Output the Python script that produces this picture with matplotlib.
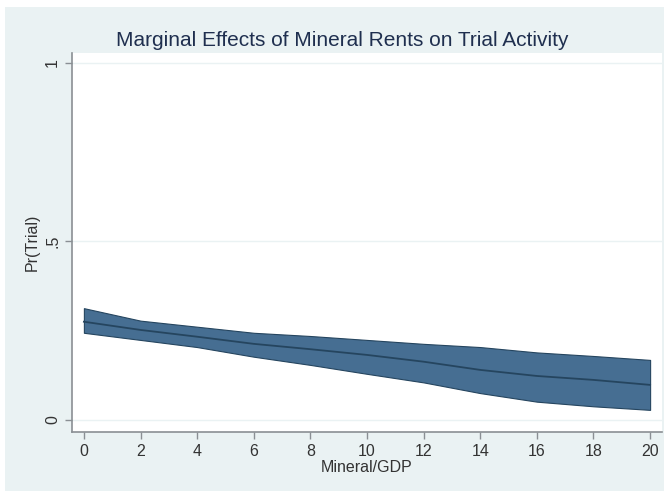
import numpy as np
import matplotlib.pyplot as plt
from matplotlib.patches import Rectangle

# values
mineral_gdp = [0, 2, 4, 6, 8, 10, 12, 14, 16, 18, 20]
pr_trial = [0.275, 0.252, 0.233, 0.213, 0.198, 0.182, 0.163, 0.140, 0.123, 0.112, 0.098]
ci_upper = [0.313, 0.278, 0.261, 0.244, 0.235, 0.224, 0.213, 0.204, 0.189, 0.179, 0.168]
ci_lower = [0.244, 0.224, 0.204, 0.177, 0.154, 0.129, 0.105, 0.075, 0.051, 0.038, 0.028]

x_ticks = list(range(0, 21, 2))
y_ticks = [0, 0.5, 1]
y_tick_labels = ['0', '.5', '1']

plt.rcParams['font.family'] = ['Liberation Sans', 'DejaVu Sans']

bg = '#eaf2f3'
fill_col = '#466e92'
line_col = '#25455f'
axis_col = '#8a8f94'
text_col = '#333333'

fig = plt.figure(figsize=(6.69, 4.93), dpi=100, facecolor='white')
fig.patches.append(Rectangle((5 / 669, 2 / 493), 659 / 669, 484 / 493,
                             transform=fig.transFigure, facecolor=bg,
                             edgecolor='none', zorder=-10))

ax = fig.add_axes([72 / 669, 61 / 493, 590 / 669, 379 / 493])
ax.set_facecolor('white')

ax.fill_between(mineral_gdp, ci_lower, ci_upper, color=fill_col,
                edgecolor=line_col, linewidth=0.8, zorder=3)
ax.plot(mineral_gdp, pr_trial, color=line_col, linewidth=1.3, zorder=4)

for yv in y_ticks:
    ax.axhline(yv, color=bg, linewidth=1.0, zorder=1)

ax.set_xlim(-0.42, 20.42)
ax.set_ylim(-0.034, 1.028)
ax.set_xticks(x_ticks)
ax.set_yticks(y_ticks)
ax.set_yticklabels(y_tick_labels, rotation=90, va='center')

for s in ['top', 'right']:
    ax.spines[s].set_visible(False)
for s in ['left', 'bottom']:
    ax.spines[s].set_color(axis_col)
    ax.spines[s].set_linewidth(1.2)
ax.tick_params(axis='both', colors=axis_col, length=5, width=1.0,
               labelcolor=text_col, labelsize=11.5)

ax.set_xlabel('Mineral/GDP', fontsize=11.5, color=text_col, labelpad=1)
ax.set_ylabel('Pr(Trial)', fontsize=11.5, color=text_col, labelpad=4)
fig.text(342 / 669, 1 - 40 / 493, 'Marginal Effects of Mineral Rents on Trial Activity',
         ha='center', va='center', fontsize=15, color='#1f2f4f')

fig.savefig('out.png', dpi=100, facecolor=fig.get_facecolor())
